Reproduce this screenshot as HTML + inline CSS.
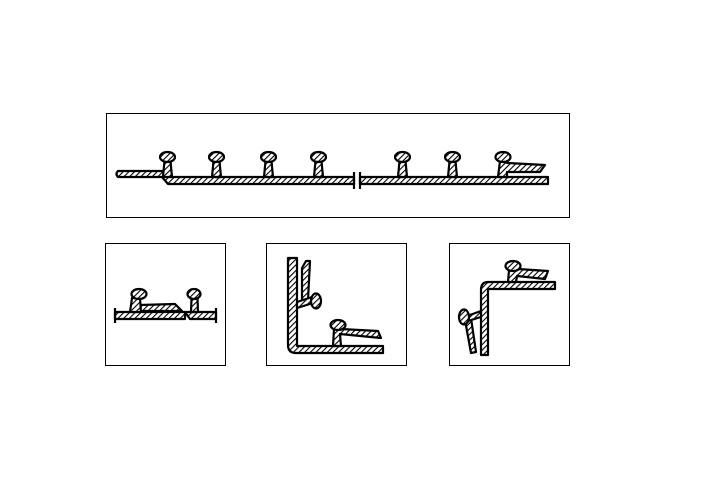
<!DOCTYPE html>
<html><head><style>html,body{margin:0;padding:0;background:#fff}</style></head><body>
<svg width="720" height="480" viewBox="0 0 720 480" xmlns="http://www.w3.org/2000/svg">
<defs>
<pattern id="h" width="4" height="4" patternUnits="userSpaceOnUse" patternTransform="rotate(45)">
<rect width="4" height="4" fill="#fff"/><line x1="0" y1="0" x2="0" y2="4" stroke="#000" stroke-width="2.2"/>
</pattern>
</defs>
<g fill="none" stroke="#000" stroke-width="1">
<rect x="106.5" y="113.5" width="463" height="104"/>
<rect x="105.5" y="243.5" width="120" height="122"/>
<rect x="266.5" y="243.5" width="140" height="122"/>
<rect x="449.5" y="243.5" width="120" height="122"/>
</g>
<g fill="url(#h)" stroke="#000" stroke-width="2.2" stroke-linejoin="round">
<path d="M118 171 L164 171 L170 177 L354 177 L354 184 L168 184 L162 177 L118 177 Q115 174 118 171 Z"/>
<path d="M360 177 L548 177 L548 184 L360 184 Z"/>
<line x1="354" y1="172" x2="354" y2="189"/>
<line x1="360" y1="172" x2="360" y2="189"/>
<g id="s">
<path d="M164.5 161 L163 177 L172 177 L170.5 161 Z"/>
<ellipse cx="167.5" cy="157" rx="7.5" ry="5"/>
</g>
<use href="#s" x="49"/><use href="#s" x="101"/><use href="#s" x="151"/>
<use href="#s" x="235"/><use href="#s" x="285"/>
<path d="M500 161 L498 177 L507 177 L507 172 L540 172 L545 165 L508 163 Z"/>
<ellipse cx="503" cy="157" rx="7.5" ry="5"/>
<path d="M115 312 L185 312 L185 319 L115 319 Z"/>
<path d="M185 312 L216 312 L216 319 L190 319 Z"/>
<path d="M140 305 L175 304 L182 311 L140 311 Z"/>
<path d="M132 298 L130 312 L141 312 L140 298 Z"/>
<ellipse cx="139" cy="294" rx="7.5" ry="5"/>
<path d="M191.5 298 L191 312 L198 312 L197.5 298 Z"/>
<ellipse cx="194" cy="294" rx="6.5" ry="5"/>
<line x1="115" y1="308" x2="115" y2="323"/>
<line x1="216" y1="308" x2="216" y2="323"/>
<path d="M288 258 L297 258 L297 346 L383 346 L383 353 L296 353 Q288 353 288 345 Z"/>
<path d="M302 268 L306 261 L310 261 L308 300 L302 300 Z"/>
<path d="M297 302 L312 297 L313 303 L297 308 Z"/>
<ellipse cx="316" cy="301" rx="5" ry="7.5"/>
<path d="M334 329 L333 346 L341 346 L340 334 L381 338 L378 331 L341 329 Z"/>
<ellipse cx="338" cy="325" rx="7.5" ry="5"/>
<path d="M488 282 L555 282 L555 289 L488 289 L488 355 L481 355 L481 290 Q481 282 488 282 Z"/>
<path d="M509 270 L508 282 L516 282 L517 276 L545 279 L548 271 L518 269 Z"/>
<ellipse cx="513" cy="266" rx="7.5" ry="5"/>
<path d="M465 320 L471 318 L476 352 L471 353 Z"/>
<path d="M467 316 L481 311 L481 317 L468 321 Z"/>
<ellipse cx="464" cy="317" rx="5" ry="7.5"/>
</g>
</svg>
</body></html>
